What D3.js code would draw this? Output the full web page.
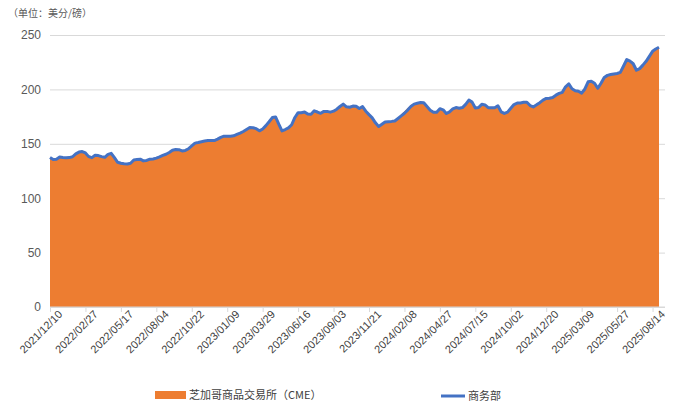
<!DOCTYPE html>
<html><head><meta charset="utf-8">
<script src="https://cdn.jsdelivr.net/npm/d3@7"></script>
<style>body{margin:0;background:#fff;font-family:"Noto Sans CJK SC","Liberation Sans",sans-serif;}</style>
</head><body><svg id="c" width="693" height="417"></svg>
<script>
const commerce = [137.5,135.6,135.8,137.8,137.4,137.1,137.3,138.1,140.8,142.4,142.9,141.6,138.2,137.3,139.5,139.2,138.2,137.6,140.3,141.2,
137.2,133,132.1,131.6,131.4,132.1,135.1,135.6,135.9,134.3,134.7,135.9,136.1,136.8,138,139.3,140.4,142,144,144.7,
144.6,143.4,143.9,145.5,148,150.6,151.2,151.9,152.5,153,153,153,154.3,155.9,157,157,157,157.3,158.6,159.8,
161.3,163.1,164.9,164.8,163.9,161.9,163.6,166.7,170.3,174.1,174.7,168,161.9,163.1,164.7,167.5,174.2,178.6,178.6,179.3,
177.3,177.2,180.3,179.2,178,179.8,179.8,179.1,180,181.8,184.3,186.5,184,183.6,184.7,184.5,182.5,184.2,180,176.8,
173.8,169.3,165.9,167.9,170,170.3,170.6,171,173.3,175.7,178.1,181,184.3,186.5,187.3,188,187.7,184.3,180.9,179,
179,182.3,181.2,177.8,179.4,182,183.3,182.7,183.3,186.2,190.2,188.3,183,183.4,186.3,185.7,183.2,183.2,183.2,185,
179.4,177.9,179.1,182.6,186.1,187.4,187.5,188.2,188.2,185.2,183.9,185.8,187.8,190.2,191.7,191.9,192.6,194.7,196.3,197.3,
202.4,205.1,200.6,198.8,198.3,196.6,200.4,207,207.5,205.7,201,205.6,211,212.9,213.7,214.2,214.6,215.6,221.5,227.5,
226,223.6,217.6,219.1,222.3,225.8,230.4,235,237.1,238.8];
const cme = [136.5,135.4,135.6,137.5,137.2,136.9,137.1,138,140.6,142.2,142.7,141.8,139.5,138.6,139.3,139,138,137.4,140,140.9,
137.6,133.4,132,131.5,131.3,132,134.9,135.4,135.7,134.5,134.6,135.7,136,136.6,137.8,139.1,140.2,141.8,143.8,144.5,
144.4,143.6,143.8,145.3,147.8,150.4,151,151.7,152.3,152.8,152.8,152.9,154.1,155.7,156.8,156.8,156.9,157.1,158.4,159.6,
161.1,162.9,164.7,164.6,163.7,162.2,163.4,166.5,170,173.8,174.5,168.4,162.2,163,164.5,167.3,174,178.3,178.4,179,
177.5,177.4,180,179,178.1,179.6,179.6,179,179.8,181.6,184.1,186.2,184.2,183.5,184.5,184.3,182.8,183.5,178.5,175.8,
172.5,168.8,165.7,167.7,169.8,170.1,170.4,170.9,174,177,180,183,185.6,187,187.5,187.9,187.5,184.6,181.2,179.3,
179.2,182,181.4,178.3,179.5,181.8,183.1,182.6,183.1,186,189.8,188,183.3,183.5,186.1,185.5,183.1,183,183,184.7,
179.8,178.2,179.3,182.5,186,187.5,187.4,188,188,185.4,184,185.6,187.6,190,191.5,191.8,192.4,194.8,196.8,197.5,
202,204.6,200.8,199,198.2,197,200.2,206.6,207.2,205.5,201.4,205.4,210.8,212.7,213.5,214,214.4,215.4,221.3,227,
226.5,225.2,219.5,219.3,222.1,225.6,230.2,234.8,236.9,238.6];
const tickLabels = ["2021/12/10","2022/02/27","2022/05/17","2022/08/04","2022/10/22","2023/01/09","2023/03/29","2023/06/16","2023/09/03","2023/11/21","2024/02/08","2024/04/27","2024/07/15","2024/10/02","2024/12/20","2025/03/09","2025/05/27","2025/08/14"];
const yTicks = [0,50,100,150,200,250];
const seriesNames = ["芝加哥商品交易所（CME）","商务部"];

const svg = d3.select("#c");
const L=50,R=659,T=35,B=307;
const idx = d3.range(commerce.length);
const x = d3.scaleLinear().domain([0,commerce.length-1]).range([L,R]);
const y = d3.scaleLinear().domain([0,250]).range([B,T]);

svg.append("text").attr("x",8).attr("y",17).attr("font-size",10).attr("fill","#595959").text("（单位：美分/磅）");

const yAxis = svg.append("g").attr("transform",`translate(${L},0)`)
  .call(d3.axisLeft(y).tickValues(yTicks).tickSize(-(665-L)).tickPadding(9));
yAxis.select(".domain").remove();
yAxis.selectAll("line").attr("stroke","#d9d9d9");
yAxis.selectAll("text").attr("font-size",12).attr("fill","#595959").attr("font-family","Liberation Sans, Arial");

svg.append("path").datum(idx).attr("fill","#ED7D31")
  .attr("d",d3.area().x(i=>x(i)).y0(B).y1(i=>y(cme[i])));
svg.append("path").datum(idx).attr("fill","none").attr("stroke","#4472C4").attr("stroke-width",3).attr("stroke-linejoin","round")
  .attr("d",d3.line().x(i=>x(i)).y(i=>y(commerce[i])));

const tickIdx = tickLabels.map((_,k)=>k*11);
const xAxis = svg.append("g").attr("transform",`translate(0,${B})`)
  .call(d3.axisBottom(x).tickValues(tickIdx).tickFormat((d,k)=>tickLabels[k]).tickSize(5).tickSizeOuter(0));
xAxis.select(".domain").attr("d",`M${L},0H665`).attr("stroke","#d9d9d9");
xAxis.selectAll("line").attr("stroke","#d9d9d9");
xAxis.selectAll("text").attr("font-size",11).attr("fill","#404040").attr("font-family","Liberation Sans, Arial")
  .attr("text-anchor","end").attr("dx","0.3em").attr("dy","0.6em").attr("transform","rotate(-45)");

const lg = svg.append("g");
lg.append("rect").attr("x",155).attr("y",391).attr("width",31).attr("height",8).attr("fill","#ED7D31");
lg.append("text").attr("x",189).attr("y",399).attr("font-size",11).attr("fill","#404040").text(seriesNames[0]);
lg.append("line").attr("x1",441).attr("x2",465).attr("y1",396).attr("y2",396).attr("stroke","#4472C4").attr("stroke-width",3);
lg.append("text").attr("x",468).attr("y",400).attr("font-size",11).attr("fill","#404040").text(seriesNames[1]);
</script></body></html>
